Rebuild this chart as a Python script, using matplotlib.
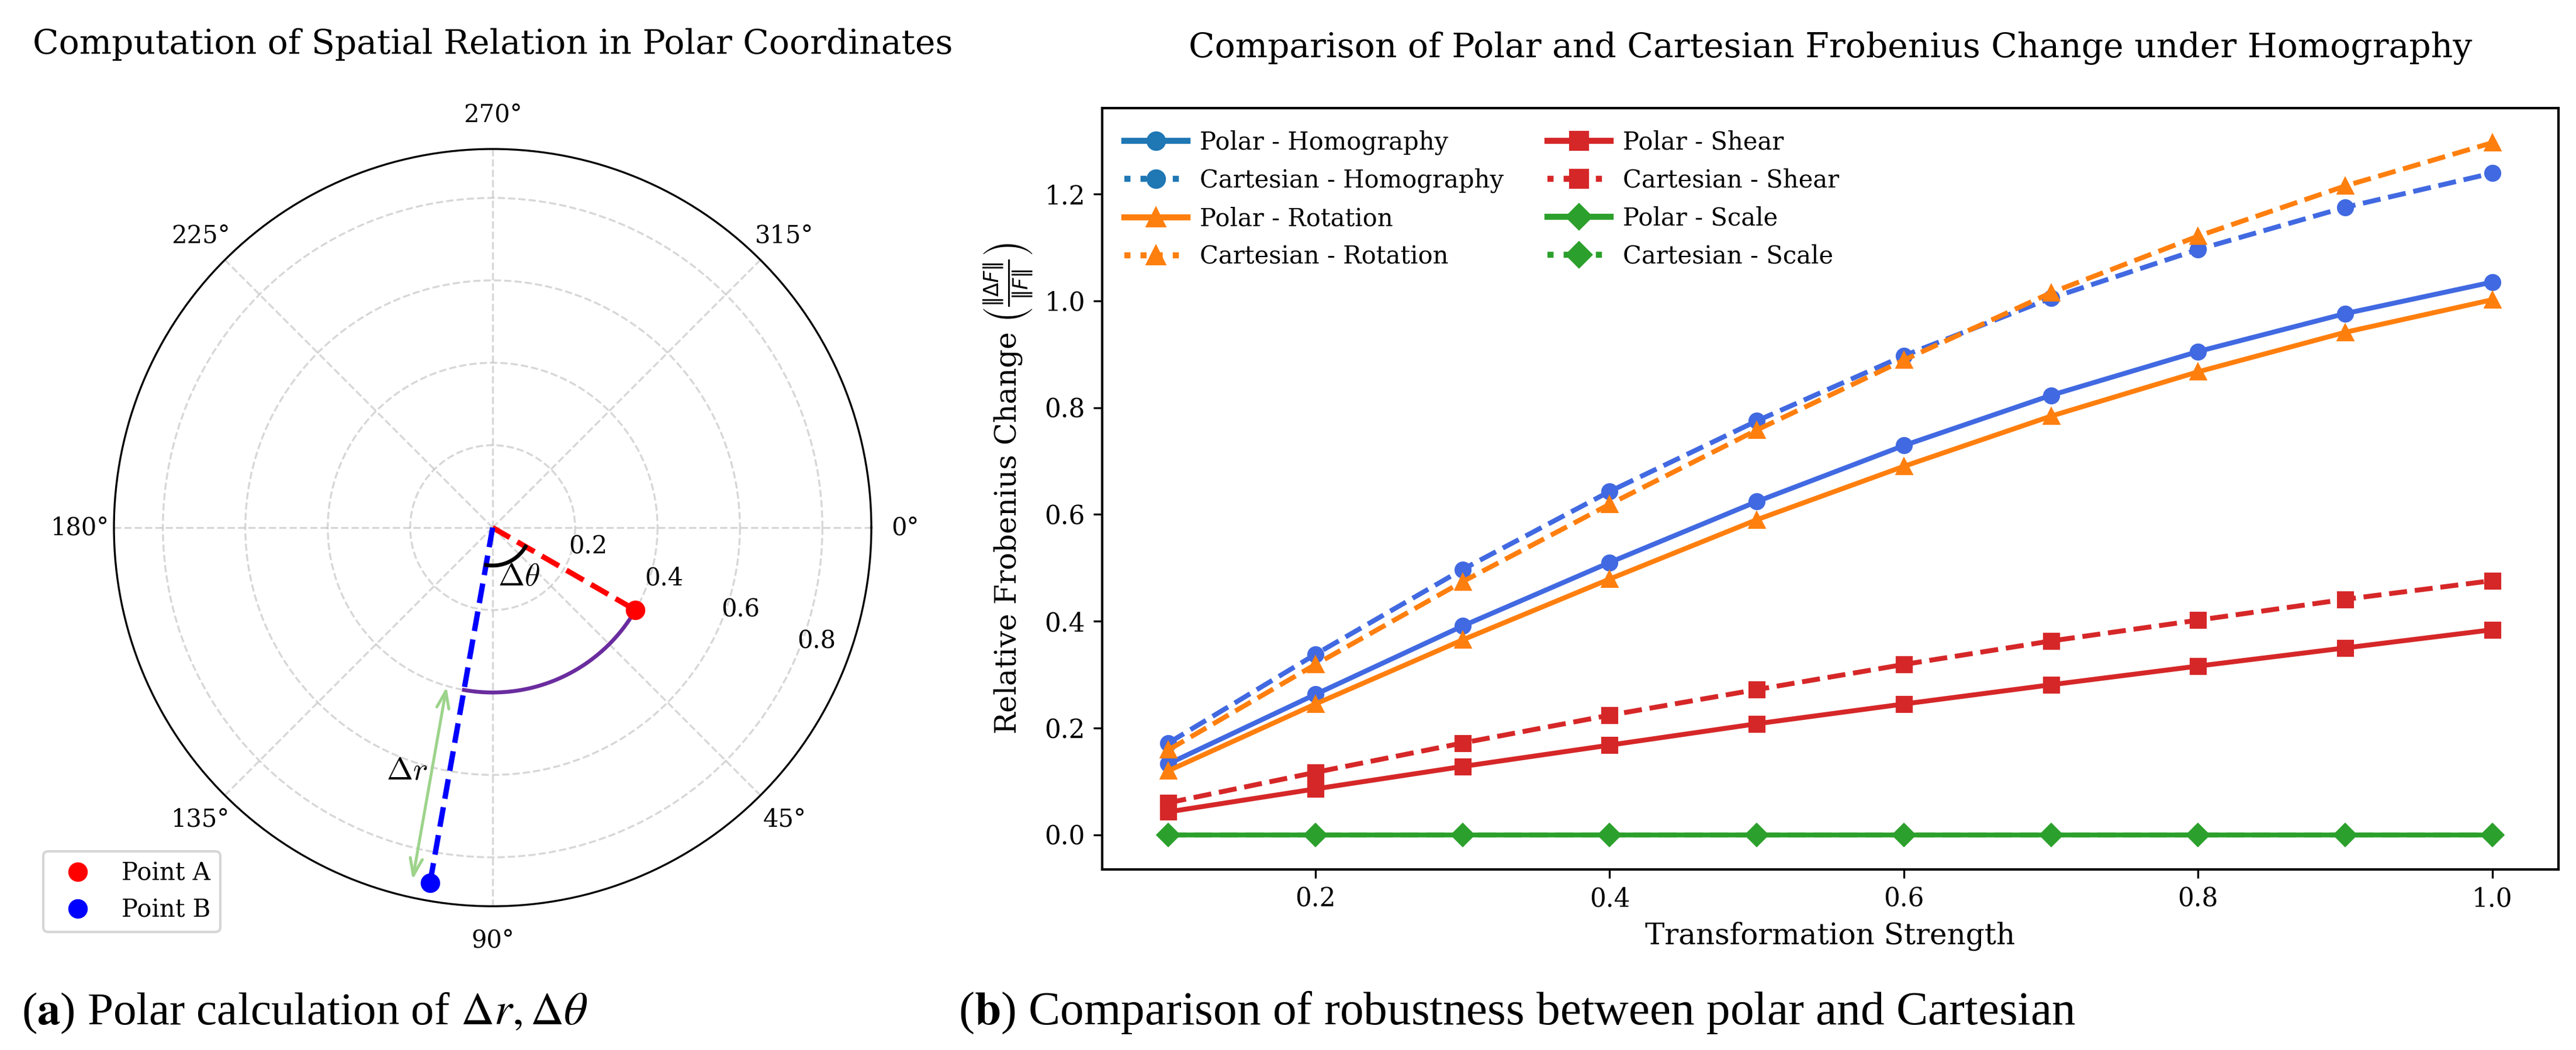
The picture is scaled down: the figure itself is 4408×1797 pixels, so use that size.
import numpy as np
import matplotlib
matplotlib.use("Agg")
import matplotlib.pyplot as plt
from matplotlib.lines import Line2D

plt.rcParams['font.family'] = ['DejaVu Serif']

# ---------------- data ----------------
# left panel: two points in polar coordinates (angle in degrees, radius)
point_names = ["Point A", "Point B"]
point_theta_deg = [30.0, 100.0]
point_r = [0.40, 0.875]

# right panel
strength = [0.1, 0.2, 0.3, 0.4, 0.5, 0.6, 0.7, 0.8, 0.9, 1.0]
polar_homography = [0.133, 0.263, 0.391, 0.510, 0.624, 0.729, 0.823, 0.905, 0.976, 1.035]
cart_homography = [0.172, 0.338, 0.497, 0.643, 0.775, 0.897, 1.005, 1.096, 1.175, 1.239]
polar_rotation = [0.120, 0.245, 0.365, 0.479, 0.590, 0.690, 0.784, 0.867, 0.941, 1.002]
cart_rotation = [0.159, 0.319, 0.474, 0.619, 0.758, 0.889, 1.015, 1.121, 1.215, 1.296]
polar_shear = [0.043, 0.086, 0.128, 0.168, 0.208, 0.245, 0.281, 0.316, 0.350, 0.384]
cart_shear = [0.060, 0.117, 0.172, 0.224, 0.272, 0.319, 0.363, 0.402, 0.441, 0.476]
polar_scale = [0.0] * 10
cart_scale = [0.0] * 10

transforms = ["Homography", "Rotation", "Shear", "Scale"]

W, H = 4408, 1797
DPI = 300
fig = plt.figure(figsize=(W / DPI, H / DPI), dpi=DPI)

# ---------------- left: polar ----------------
cx, cy, rad = 843, 903, 648
axp = fig.add_axes([(cx - rad) / W, (H - cy - rad) / H, 2 * rad / W, 2 * rad / H],
                   projection='polar')
axp.set_theta_zero_location('E')
axp.set_theta_direction(-1)

thA, thB = np.deg2rad(point_theta_deg[0]), np.deg2rad(point_theta_deg[1])
rA, rB = point_r

axp.plot([0, thA], [0, rA], color='red', ls='--', lw=2.2, zorder=3)
axp.plot([0, thB], [0, rB], color='blue', ls='--', lw=2.2, zorder=3)
axp.plot([thA], [rA], 'o', color='red', ms=7, label=point_names[0], zorder=4)
axp.plot([thB], [rB], 'o', color='blue', ms=7, label=point_names[1], zorder=4)

# delta-theta arcs
arc_t = np.linspace(thA, thB, 100)
axp.plot(arc_t, np.full_like(arc_t, 0.092), color='black', lw=1.6, zorder=3)
axp.plot(arc_t, np.full_like(arc_t, rA), color='#6a2c9e', lw=1.6, zorder=3)
axp.text(np.deg2rad(62), 0.135, r'$\Delta\theta$', fontsize=13, ha='center', va='center',
         math_fontfamily='cm')

# delta-r arrow, parallel to OB, offset sideways
off = 0.043
t_top, r_top = thB + np.arctan2(off, rA), np.hypot(rA, off)
t_bot, r_bot = thB + np.arctan2(off, rB), np.hypot(rB, off)
axp.annotate('', xy=(t_top, r_top), xytext=(t_bot, r_bot),
             arrowprops=dict(arrowstyle='<->,head_length=0.7,head_width=0.25',
                             color='#9dd38b', lw=1.2, shrinkA=0, shrinkB=0))
axp.text(np.deg2rad(109.5), 0.625, r'$\Delta r$', fontsize=13, ha='center', va='center',
         math_fontfamily='cm')

axp.set_ylim(0, rB * 1.05)
axp.set_rticks([0.2, 0.4, 0.6, 0.8])
axp.grid(True, ls='--', alpha=0.5)
axp.tick_params(labelsize=10)
axp.set_title("Computation of Spatial Relation in Polar Coordinates", fontsize=14,
              y=1.126, pad=0)
axp.legend(loc='lower left', bbox_to_anchor=(-0.093, -0.034), borderaxespad=0,
           fontsize=10)

# ---------------- right: line chart ----------------
ax = fig.add_axes([1886 / W, (H - 1488) / H, (4378 - 1886) / W, (1488 - 185) / H])
colors = {"Homography": "royalblue", "Rotation": "tab:orange",
          "Shear": "tab:red", "Scale": "tab:green"}
legend_colors = {"Homography": "tab:blue", "Rotation": "tab:orange",
                 "Shear": "tab:red", "Scale": "tab:green"}
markers = {"Homography": "o", "Rotation": "^", "Shear": "s", "Scale": "D"}
series = {"Homography": (polar_homography, cart_homography),
          "Rotation": (polar_rotation, cart_rotation),
          "Shear": (polar_shear, cart_shear),
          "Scale": (polar_scale, cart_scale)}

handles = []
for t in transforms:
    p, c = series[t]
    ax.plot(strength, p, ls='-', marker=markers[t], color=colors[t], lw=2, ms=6)
    ax.plot(strength, c, ls='--', marker=markers[t], color=colors[t], lw=2, ms=6)
    handles.append(Line2D([], [], ls='-', marker=markers[t], color=legend_colors[t],
                          lw=2.5, ms=7, label=f"Polar - {t}"))
    handles.append(Line2D([], [], ls=':', marker=markers[t], color=legend_colors[t],
                          lw=2.5, ms=7, label=f"Cartesian - {t}"))

ax.legend(handles=handles, ncol=2, loc='upper left', frameon=False, fontsize=10,
          handlelength=2.6, handletextpad=0.5, labelspacing=0.55, columnspacing=1.8)
ax.set_xlabel("Transformation Strength", fontsize=12)
ax.set_ylabel(r"Relative Frobenius Change $\left(\frac{\|\Delta F\|}{\|F\|}\right)$",
              fontsize=12)
ax.set_title("Comparison of Polar and Cartesian Frobenius Change under Homography",
             fontsize=14, y=1.0668, pad=0)
ax.tick_params(labelsize=10.5)
for s in ax.spines.values():
    s.set_linewidth(1.0)

# ---------------- captions ----------------
fig.text(37 / W, 44 / H, r"($\mathbf{a}$) Polar calculation of $\Delta r, \Delta\theta$",
         fontsize=19, family='Liberation Serif', math_fontfamily='stix',
         va='baseline', ha='left')
fig.text(1640 / W, 44 / H, r"($\mathbf{b}$) Comparison of robustness between polar and Cartesian",
         fontsize=19.5, family='Liberation Serif', math_fontfamily='stix',
         va='baseline', ha='left')

fig.savefig("out.png", dpi=DPI)
